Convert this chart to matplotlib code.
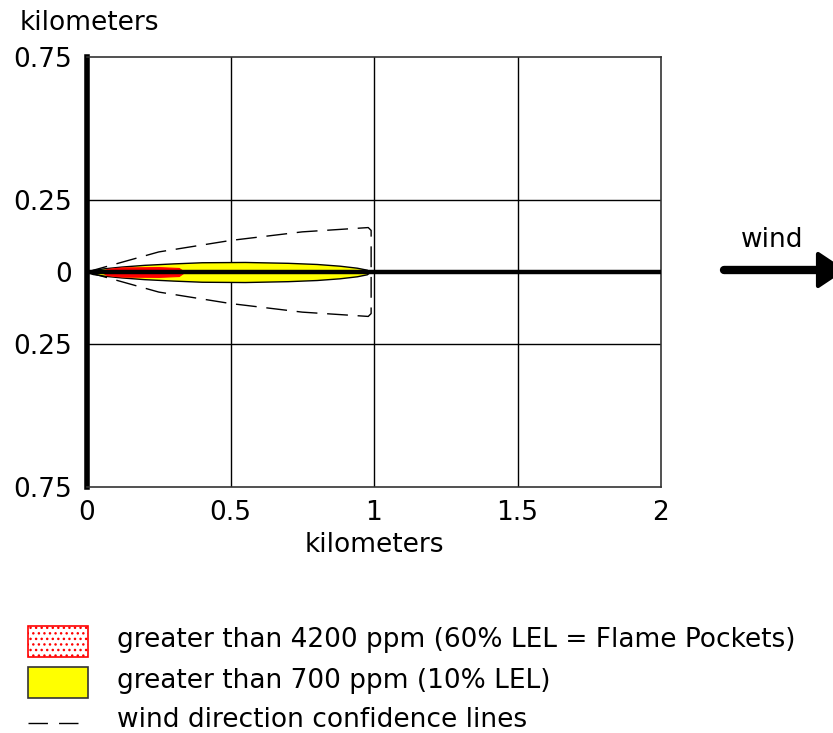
import matplotlib
matplotlib.use("Agg")
import matplotlib.pyplot as plt
from matplotlib.patches import Rectangle, Polygon
from matplotlib.lines import Line2D
import numpy as np

# Downwind distance (km) and half-width (km) of each threat zone
yellow_x = [0.0, 0.02, 0.06, 0.12, 0.20, 0.30, 0.40, 0.55, 0.70, 0.80, 0.88, 0.94, 0.975, 0.985]
yellow_half = [0.0, 0.007, 0.013, 0.019, 0.025, 0.030, 0.034, 0.035, 0.032, 0.028, 0.022, 0.015, 0.008, 0.0]

red_x = [0.05, 0.07, 0.12, 0.25, 0.32, 0.34]
red_half = [0.0, 0.011, 0.016, 0.017, 0.014, 0.0]

# Wind direction confidence envelope
conf_x = [0.0, 0.25, 0.5, 0.75, 0.98, 0.99]
conf_half = [0.0, 0.07, 0.11, 0.14, 0.155, 0.145]

x_ticks = [0, 0.5, 1, 1.5, 2]
x_tick_labels = ["0", "0.5", "1", "1.5", "2"]
y_ticks = [-0.75, -0.25, 0, 0.25, 0.75]
y_tick_labels = ["0.75", "0.25", "0", "0.25", "0.75"]

legend_labels = [
    "greater than 4200 ppm (60% LEL = Flame Pockets)",
    "greater than 700 ppm (10% LEL)",
    "wind direction confidence lines",
]

plt.rcParams["font.family"] = ["DejaVu Sans"]
FS = 19

fig = plt.figure(figsize=(8.33, 7.33), dpi=100)
ax = fig.add_axes([87 / 833, 1 - 487 / 733, 574 / 833, 430 / 733])
ax.set_xlim(0, 2)
ax.set_ylim(-0.75, 0.75)

# grid
for gx in [0.5, 1.0, 1.5]:
    ax.axvline(gx, color="black", lw=1.0, zorder=1)
for gy in [-0.25, 0.25]:
    ax.axhline(gy, color="black", lw=1.0, zorder=1)

# yellow zone
yx = np.array(yellow_x)
yh = np.array(yellow_half)
ax.fill_between(yx, -yh, yh, facecolor="#ffff00", edgecolor="black",
                lw=1.0, zorder=3)

# red zone
rx = np.array(red_x)
rh = np.array(red_half)
ax.fill_between(rx, -rh, rh, facecolor="#ff0000", edgecolor="#ff0000",
                lw=0.8, zorder=4)

# confidence lines
cx = np.array(conf_x)
ch = np.array(conf_half)
env_x = np.concatenate([cx, cx[::-1]])
env_y = np.concatenate([ch, -ch[::-1]])
ax.plot(env_x, env_y, color="black", lw=1.0, ls=(0, (15, 7)), zorder=5)

# downwind centerline
ax.plot([0, 2], [0, 0], color="black", lw=3.2, zorder=6, solid_capstyle="butt")

for side in ["top", "right", "bottom"]:
    ax.spines[side].set_linewidth(1.2)
    ax.spines[side].set_color("#333333")
ax.spines["left"].set_linewidth(4)
ax.spines["left"].set_color("black")

ax.set_xticks(x_ticks)
ax.set_xticklabels(x_tick_labels, fontsize=FS)
ax.set_yticks(y_ticks)
ax.set_yticklabels(y_tick_labels, fontsize=FS)
ax.tick_params(length=0)
ax.tick_params(axis="y", pad=11)
ax.tick_params(axis="x", pad=9)
ax.set_xlabel("kilometers", fontsize=FS, labelpad=5)

fig.text(20 / 833, 1 - 30 / 733, "kilometers", fontsize=FS, ha="left", va="baseline")

# wind arrow
fig.add_artist(Line2D([724 / 833, 818 / 833], [1 - 270 / 733, 1 - 270 / 733],
                      transform=fig.transFigure, color="black", lw=6,
                      solid_capstyle="round"))
fig.add_artist(Polygon([[818 / 833, 1 - 254 / 733], [842 / 833, 1 - 270 / 733],
                        [818 / 833, 1 - 286 / 733]], closed=True,
                       transform=fig.transFigure, facecolor="black",
                       edgecolor="black", lw=3, joinstyle="round"))
fig.text(772 / 833, 1 - 240 / 733, "wind", fontsize=FS, ha="center", va="center")

# legend
plt.rcParams["hatch.color"] = "#ff0000"
plt.rcParams["hatch.linewidth"] = 1.0
fig.add_artist(Rectangle((28 / 833, 1 - 657 / 733), 60 / 833, 31 / 733,
                         transform=fig.transFigure, facecolor="white",
                         edgecolor="#ff0000", lw=1.2, hatch="..."))
fig.add_artist(Rectangle((28 / 833, 1 - 698 / 733), 60 / 833, 31 / 733,
                         transform=fig.transFigure, facecolor="#ffff00",
                         edgecolor="#333333", lw=1.2))
fig.add_artist(Line2D([28 / 833, 88 / 833], [1 - 723 / 733, 1 - 723 / 733],
                      transform=fig.transFigure, color="black", lw=1.0,
                      ls=(0, (14, 8))))
for i, lab in enumerate(legend_labels):
    yy = [640, 681, 720][i]
    fig.text(117 / 833, 1 - yy / 733, lab, fontsize=FS, ha="left", va="center")

fig.savefig("out.png", dpi=100)
